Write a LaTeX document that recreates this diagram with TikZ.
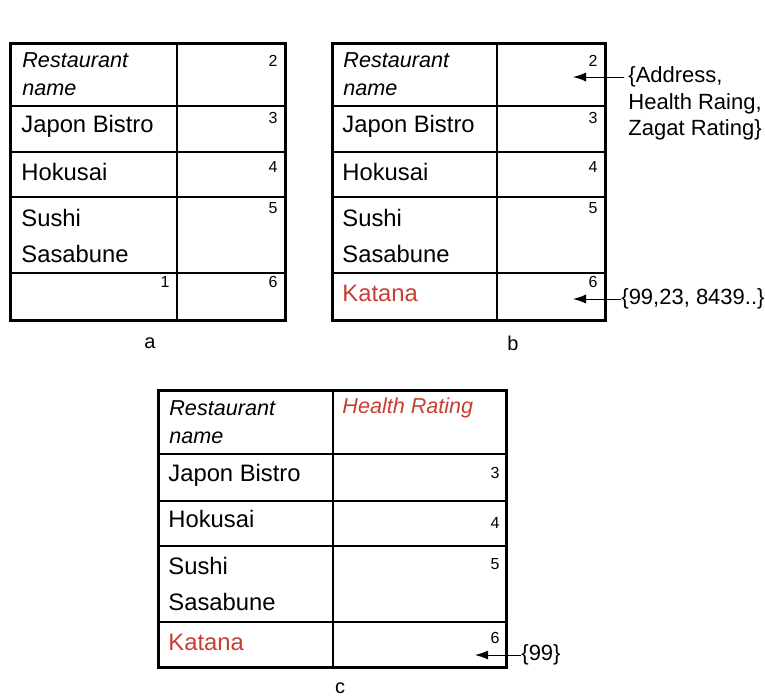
\documentclass[tikz,border=0pt]{standalone}
\usepackage{fontspec}
\setmainfont{Liberation Sans}
\usetikzlibrary{arrows.meta}
\definecolor{katred}{RGB}{200,62,50}
\tikzset{
    outer/.style={line width=1.5pt},
    inner/.style={line width=0.6pt},
    cell/.style={anchor=west, inner sep=0pt, font=\fontsize{11.9}{18}\selectfont, align=left},
    hdr/.style={anchor=west, inner sep=0pt, align=left, font=\fontsize{10.8}{13.8}\selectfont\itshape},
    num/.style={inner sep=0pt, font=\fontsize{8}{9}\selectfont},
    note/.style={anchor=west, inner ysep=0pt, inner xsep=2pt, font=\fontsize{11}{13.5}\selectfont},
    arr/.style={-{Latex[length=6.5pt,width=4.5pt]}, line width=0.5pt},
    sublabel/.style={inner sep=0pt, font=\fontsize{10}{12}\selectfont}
}
\begin{document}
\begin{tikzpicture}[x=0.5pt, y=-0.5pt]
        \useasboundingbox (0,0) rectangle (765,698);

        % tabulka a
        \draw[inner] (177,43) -- (177,320);
        \draw[inner] (10,106) -- (285,106) (10,152) -- (285,152)
                     (10,197) -- (285,197) (10,273) -- (285,273);
        \draw[outer] (10,43) rectangle (285,320);
        \node[hdr] (aName) at (22,74) {Restaurant\\name};
        \node[cell] (aJapon) at (21,126) {Japon Bistro};
        \node[cell] (aHoku) at (21,172) {Hokusai};
        \node[cell] (aSushi) at (21,236) {Sushi\\Sasabune};
        \node[num] (a1) at (165,282) {1};
        \node[num] (a2) at (273,61) {2};
        \node[num] (a3) at (273,118) {3};
        \node[num] (a4) at (273,167) {4};
        \node[num] (a5) at (273,208) {5};
        \node[num] (a6) at (273,282) {6};
        \node[sublabel] (capA) at (150,343) {a};

        % tabulka b
        \draw[inner] (497,43) -- (497,320);
        \draw[inner] (332,106) -- (605,106) (332,152) -- (605,152)
                     (332,197) -- (605,197) (332,273) -- (605,273);
        \draw[outer] (332,43) rectangle (605,320);
        \node[hdr] (bName) at (343,74) {Restaurant\\name};
        \node[cell] (bJapon) at (342,126) {Japon Bistro};
        \node[cell] (bHoku) at (342,172) {Hokusai};
        \node[cell] (bSushi) at (342,236) {Sushi\\Sasabune};
        \node[cell, text=katred] (bKatana) at (342,293) {Katana};
        \node[num] (b2) at (593,61) {2};
        \node[num] (b3) at (593,118) {3};
        \node[num] (b4) at (593,167) {4};
        \node[num] (b5) at (593,208) {5};
        \node[num] (b6) at (593,282) {6};
        \node[sublabel] (capB) at (513,343) {b};

        % hodnoty b
        \coordinate (bTipTop) at (573,77);
        \coordinate (bTipBot) at (573,299);
        \node[note] (bAddr) at (624,77) {\{Address,};
        \node[note] (bHealth) at (624,104) {Health Raing,};
        \node[note] (bZagat) at (624,130) {Zagat Rating\}};
        \node[note, inner xsep=0pt] (bVals) at (621,299) {\{99,23, 8439..\}};
        \draw[arr] (bAddr.west) -- (bTipTop);
        \draw[arr] (bVals.west) -- (bTipBot);

        % tabulka c
        \draw[inner] (333,390) -- (333,667);
        \draw[inner] (158,454) -- (506,454) (158,501) -- (506,501)
                     (158,546) -- (506,546) (158,622) -- (506,622);
        \draw[outer] (158,390) rectangle (506,667);
        \node[hdr] (cName) at (169,422) {Restaurant\\name};
        \node[hdr, text=katred] (cHealth) at (342,408) {Health Rating};
        \node[cell] (cJapon) at (168,475) {Japon Bistro};
        \node[cell] (cHoku) at (168,519) {Hokusai};
        \node[cell] (cSushi) at (168,584) {Sushi\\Sasabune};
        \node[cell, text=katred] (cKatana) at (168,642) {Katana};
        \node[num] (c3) at (495,473) {3};
        \node[num] (c4) at (495,523) {4};
        \node[num] (c5) at (495,564) {5};
        \node[num] (c6) at (495,638) {6};
        \node[sublabel] (capC) at (340,688) {c};

        % hodnota c
        \coordinate (cTip) at (475,655);
        \node[note, inner xsep=0pt] (cVal) at (521,655) {\{99\}};
        \draw[arr] (cVal.west) -- (cTip);
    \end{tikzpicture}
\end{document}
